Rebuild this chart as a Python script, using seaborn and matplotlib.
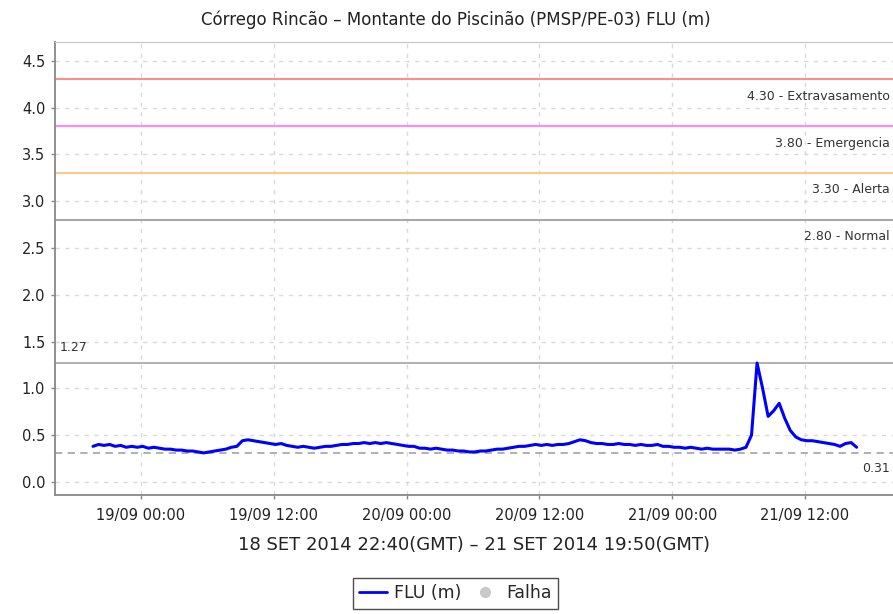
import pandas as pd
import matplotlib.pyplot as plt
import matplotlib.dates as mdates
from matplotlib.lines import Line2D
import seaborn as sns

# FLU readings every 30 min (local time), starting 18/09/2014 19:40
start_time = '2014-09-18 19:40'
step = '30min'
flu_values = [
    0.38, 0.40, 0.39, 0.40, 0.38, 0.39, 0.37, 0.38, 0.37, 0.38, 0.36, 0.37,
    0.36, 0.35, 0.35, 0.34, 0.34, 0.33, 0.33, 0.32, 0.31, 0.32, 0.33, 0.34,
    0.35, 0.37, 0.38, 0.44, 0.45, 0.44, 0.43, 0.42, 0.41, 0.40, 0.41, 0.39,
    0.38, 0.37, 0.38, 0.37, 0.36, 0.37, 0.38, 0.38, 0.39, 0.40, 0.40, 0.41,
    0.41, 0.42, 0.41, 0.42, 0.41, 0.42, 0.41, 0.40, 0.39, 0.38, 0.38, 0.36,
    0.36, 0.35, 0.36, 0.35, 0.34, 0.34, 0.33, 0.33, 0.32, 0.32, 0.33, 0.33,
    0.34, 0.35, 0.35, 0.36, 0.37, 0.38, 0.38, 0.39, 0.40, 0.39, 0.40, 0.39,
    0.40, 0.40, 0.41, 0.43, 0.45, 0.44, 0.42, 0.41, 0.41, 0.40, 0.40, 0.41,
    0.40, 0.40, 0.39, 0.40, 0.39, 0.39, 0.40, 0.38, 0.38, 0.37, 0.37, 0.36,
    0.37, 0.36, 0.35, 0.36, 0.35, 0.35, 0.35, 0.35, 0.34, 0.35, 0.37, 0.50,
    1.27, 1.00, 0.70, 0.76, 0.84, 0.68, 0.55, 0.48, 0.45, 0.44, 0.44, 0.43,
    0.42, 0.41, 0.40, 0.38, 0.41, 0.42, 0.37,
]

# reference levels
level_values = [4.30, 3.80, 3.30, 2.80]
level_labels = ['4.30 - Extravasamento', '3.80 - Emergencia', '3.30 - Alerta', '2.80 - Normal']
level_colors = ['#ff8c8c', '#ff88ff', '#ffc890', '#a8a8a8']
max_value = 1.27
min_value = 0.31

times = pd.date_range(start_time, periods=len(flu_values), freq=step)
df = pd.DataFrame({'time': times, 'FLU (m)': flu_values})

sns.set_style('white')
plt.rcParams['font.family'] = ['DejaVu Sans']

fig = plt.figure(figsize=(8.93, 6.14), dpi=100)
ax = fig.add_axes([0.0616, 0.1938, 0.9384, 0.7378])

# grid
ax.grid(True, color='#dadada', linestyle=(0, (3, 4)), linewidth=1)
ax.set_axisbelow(True)

for val, lab, col in zip(level_values, level_labels, level_colors):
    ax.axhline(val, color=col, linewidth=1.5, zorder=2)
    ax.text(0.996, val - 0.11, lab, transform=ax.get_yaxis_transform(),
            ha='right', va='top', fontsize=9, color='#333333')

ax.axhline(max_value, color='#aaaaaa', linewidth=1.3, zorder=2)
ax.text(0.006, max_value + 0.1, '%.2f' % max_value, transform=ax.get_yaxis_transform(),
        ha='left', va='bottom', fontsize=9, color='#333333')
ax.axhline(min_value, color='#aaaaaa', linewidth=1.3, linestyle=(0, (4, 3)), zorder=2)
ax.text(0.996, min_value - 0.1, '%.2f' % min_value, transform=ax.get_yaxis_transform(),
        ha='right', va='top', fontsize=9, color='#333333')

sns.lineplot(data=df, x='time', y='FLU (m)', ax=ax, color='#0000ff', linewidth=2.2, zorder=3)

ax.set_xlim(pd.Timestamp('2014-09-18 16:14'), pd.Timestamp('2014-09-21 19:57'))
ax.set_ylim(-0.14, 4.70)
ax.set_yticks([0.0, 0.5, 1.0, 1.5, 2.0, 2.5, 3.0, 3.5, 4.0, 4.5])
ax.yaxis.set_major_formatter(plt.FormatStrFormatter('%.1f'))
ax.xaxis.set_major_locator(mdates.HourLocator(byhour=[0, 12]))
ax.xaxis.set_major_formatter(mdates.DateFormatter('%d/%m %H:%M'))
ax.tick_params(axis='both', direction='out', length=3, width=1, color='#888888',
               labelsize=10.5, labelcolor='#222222', bottom=True, left=True)
ax.tick_params(axis='x', pad=6)
ax.tick_params(axis='y', pad=4)

for side in ['left', 'bottom']:
    ax.spines[side].set_color('#888888')
    ax.spines[side].set_linewidth(1.3)
ax.spines['top'].set_color('#c4c4c4')
ax.spines['right'].set_visible(False)

ax.set_ylabel('')
ax.set_xlabel('18 SET 2014 22:40(GMT) \u2013 21 SET 2014 19:50(GMT)', fontsize=13,
              color='#222222', labelpad=10)

fig.text(0.51, 0.968, 'Córrego Rincão \u2013 Montante do Piscinão (PMSP/PE-03) FLU (m)',
         ha='center', va='center', fontsize=12, color='#222222')

handles = [Line2D([0], [0], color='#0000ff', linewidth=2),
           Line2D([0], [0], marker='o', color='none', markerfacecolor='#c8c8c8',
                  markeredgecolor='#c8c8c8', markersize=7)]
leg = fig.legend(handles, ['FLU (m)', 'Falha'], loc='center', bbox_to_anchor=(0.51, 0.0335),
                 ncol=2, fontsize=12.5, frameon=True, fancybox=False, handlelength=1.6,
                 handletextpad=0.4, columnspacing=0.6, borderpad=0.35)
leg.get_frame().set_edgecolor('#222222')
leg.get_frame().set_linewidth(1)

fig.savefig('out.png', dpi=100)
